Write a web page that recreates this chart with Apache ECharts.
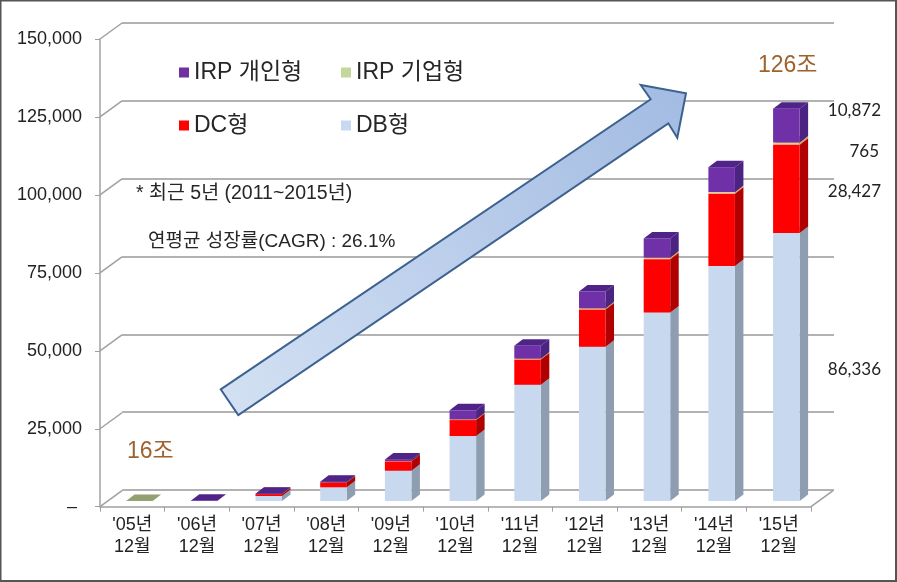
<!DOCTYPE html>
<html lang="ko">
<head>
<meta charset="utf-8">
<style>html,body{margin:0;padding:0;background:#fff}#c{width:897px;height:582px}</style>
<script src="https://cdn.jsdelivr.net/npm/echarts@6/dist/echarts.min.js"></script>
</head>
<body>
<div id="c"></div>
<script>
var categories = ["'05년\n12월","'06년\n12월","'07년\n12월","'08년\n12월","'09년\n12월","'10년\n12월","'11년\n12월","'12년\n12월","'13년\n12월","'14년\n12월","'15년\n12월"];
var yTicks = [0,25000,50000,75000,100000,125000,150000];
var dbValues    = [0,0,1610,4410,9760,20930,37450,49680,60760,75670,86336];
var dcValues    = [0,0,600,1550,3030,5150,8110,11980,17160,23280,28427];
var irpCorp     = [40,0,20,50,100,250,350,450,500,600,765];
var irpPersonal = [0,60,100,200,500,2900,4100,5400,6180,8000,10872];
var lastLabels  = [10872,765,28427,86336];

var FONT = '"Liberation Sans","Noto Sans CJK KR",sans-serif';
var DEPTH_X = 8.5, DEPTH_Y = 6.5;

function stackedRows(values, below) {
  return values.map(function (v, i) {
    var start = 0;
    below.forEach(function (b) { start += b[i]; });
    return [i, start, start + v];
  });
}
function bar3d(front, side, top) {
  return function (params, api) {
    var i = api.value(0), a = api.value(1), b = api.value(2);
    if (b <= a) return null;
    var w = api.size([1, 0])[0] * 0.41;
    var p0 = api.coord([i, a]), p1 = api.coord([i, b]);
    var l = p0[0] - w / 2, r = p0[0] + w / 2, y0 = p0[1], y1 = p1[1];
    return { type: 'group', children: [
      { type: 'polygon', shape: { points: [[r,y0],[r+DEPTH_X,y0-DEPTH_Y],[r+DEPTH_X,y1-DEPTH_Y],[r,y1]] }, style: { fill: side } },
      { type: 'polygon', shape: { points: [[l,y1],[r,y1],[r+DEPTH_X,y1-DEPTH_Y],[l+DEPTH_X,y1-DEPTH_Y]] }, style: { fill: top } },
      { type: 'rect', shape: { x: l, y: y1, width: w, height: y0 - y1 }, style: { fill: front } }
    ]};
  };
}
function wallLines(params, api) {
  var c = params.coordSys, pt = api.coord([0, api.value(0)]);
  var lines = [{ type: 'line', shape: { x1: c.x, y1: pt[1], x2: c.x + 22, y2: pt[1] - 16 }, style: { stroke: '#a0a0a0', lineWidth: 1.5 } }];
  if (api.value(0) === 0) lines.push({ type: 'line', shape: { x1: c.x + c.width, y1: pt[1], x2: c.x + c.width + 22, y2: pt[1] - 16 }, style: { stroke: '#a0a0a0', lineWidth: 1.5 } });
  return { type: 'group', children: lines };
}
function legendAt(name, color, left, top) {
  return { show: true, left: left, top: top, icon: 'rect', itemWidth: 10, itemHeight: 10, itemGap: 0, padding: 0, selectedMode: false,
    textStyle: { fontFamily: FONT, fontSize: 23, color: '#262626', padding: [0, 0, 0, 0] },
    data: [{ name: name, itemStyle: { color: color } }] };
}
function note(text, x, y, size, color, align) {
  return { type: 'text', x: x, y: y, z: 20, style: { text: text, fontFamily: FONT, fontSize: size, fill: color || '#262626', textAlign: align || 'left', textVerticalAlign: 'middle' } };
}
var LABEL_FONT = 'Lato,"Noto Sans",sans-serif';
function valueNote(v, x, y) {
  var t = note(v.toLocaleString('en-US'), x, y, 17, '#222', 'right');
  t.style.fontFamily = LABEL_FONT;
  return t;
}

var option = {
  animation: false,
  backgroundColor: '#fff',
  legend: [
    legendAt('IRP 개인형', '#7030a0', 179, 61),
    legendAt('IRP 기업형', '#c3d69b', 341, 61),
    legendAt('DC형', '#ff0000', 179, 114),
    legendAt('DB형', '#c6d9f1', 341, 114)
  ],
  grid: [
    { left: 100, top: 39, width: 711, height: 467.7 },
    { left: 122, top: 23, width: 712, height: 467 },
    { left: 107, top: 35.4, width: 711.7, height: 465.6 }
  ],
  xAxis: [
    { gridIndex: 0, type: 'category', data: categories,
      axisLine: { lineStyle: { color: '#a0a0a0', width: 1.5 } },
      axisTick: { show: true, length: 5, alignWithLabel: false, lineStyle: { color: '#a0a0a0' } },
      axisLabel: { interval: 0, margin: 7, fontFamily: FONT, fontSize: 18, color: '#222', lineHeight: 22 } },
    { gridIndex: 1, type: 'category', data: categories, show: false },
    { gridIndex: 2, type: 'category', data: categories, show: false }
  ],
  yAxis: [
    { gridIndex: 0, type: 'value', min: 0, max: 150000, interval: 25000,
      axisLine: { show: true, lineStyle: { color: '#a0a0a0', width: 1.5 } },
      axisTick: { show: true, length: 5, lineStyle: { color: '#a0a0a0' } },
      splitLine: { show: false },
      axisLabel: { margin: 18, fontFamily: FONT, fontSize: 18, color: '#222', padding: [3, 0, 0, 0],
        formatter: function (v) { return v === 0 ? '– ' : v.toLocaleString('en-US'); } } },
    { gridIndex: 1, type: 'value', min: 0, max: 150000, interval: 25000,
      axisLine: { show: false }, axisTick: { show: false }, axisLabel: { show: false },
      splitLine: { show: true, lineStyle: { color: '#999', width: 1.5 } } },
    { gridIndex: 2, type: 'value', min: 0, max: 150000, interval: 25000, show: false, splitLine: { show: false } }
  ],
  series: [
    { type: 'custom', name: 'walls', xAxisIndex: 0, yAxisIndex: 0, silent: true, z: 1, renderItem: wallLines,
      data: yTicks.map(function (t) { return [t]; }), encode: { y: 0 } },
    { type: 'custom', name: 'DB형', xAxisIndex: 2, yAxisIndex: 2, z: 3, itemStyle: { color: '#c6d9f1' },
      renderItem: bar3d('#c8d9ef', '#8e9db0', '#a3b3c9'), encode: { x: 0, y: [1, 2] },
      data: stackedRows(dbValues, []) },
    { type: 'custom', name: 'DC형', xAxisIndex: 2, yAxisIndex: 2, z: 4, itemStyle: { color: '#ff0000' },
      renderItem: bar3d('#ff0000', '#b00000', '#c00000'), encode: { x: 0, y: [1, 2] },
      data: stackedRows(dcValues, [dbValues]) },
    { type: 'custom', name: 'IRP 기업형', xAxisIndex: 2, yAxisIndex: 2, z: 5, itemStyle: { color: '#c3d69b' },
      renderItem: bar3d('#ecc9a0', '#d8a878', '#929f6e'), encode: { x: 0, y: [1, 2] },
      data: stackedRows(irpCorp, [dbValues, dcValues]) },
    { type: 'custom', name: 'IRP 개인형', xAxisIndex: 2, yAxisIndex: 2, z: 6, itemStyle: { color: '#7030a0' },
      renderItem: bar3d('#7030a8', '#4a2480', '#4f2388'), encode: { x: 0, y: [1, 2] },
      data: stackedRows(irpPersonal, [dbValues, dcValues, irpCorp]) }
  ],
  graphic: [
    { type: 'rect', z: 30, shape: { x: 0.5, y: 0.5, width: 895.5, height: 580.5 }, style: { fill: 'none', stroke: '#555', lineWidth: 2 } },
    { type: 'polygon', z: 15,
      shape: { points: [[220.7,389.3],[650.7,99.3],[640.7,85],[686,93.3],[677.3,137.7],[668.3,123.3],[238.3,415]] },
      style: { stroke: '#3d6290', lineWidth: 2, lineJoin: 'miter',
        fill: { type: 'linear', x: 0, y: 1, x2: 1, y2: 0, colorStops: [{ offset: 0, color: '#d4e1f3' }, { offset: 1, color: '#a2bbe2' }] } } },
    note('* 최근 5년 (2011~2015년)', 136, 194, 19.5),
    note('연평균 성장률(CAGR) : 26.1%', 148, 242, 19),
    note('126조', 758, 66, 23, '#a0622d'),
    note('16조', 127, 452, 23, '#a0622d'),
    valueNote(lastLabels[0], 881, 111),
    valueNote(lastLabels[1], 879, 152),
    valueNote(lastLabels[2], 881, 192),
    valueNote(lastLabels[3], 881, 370)
  ]
};
echarts.init(document.getElementById('c'), null, { renderer: 'canvas' }).setOption(option);
</script>
</body>
</html>
